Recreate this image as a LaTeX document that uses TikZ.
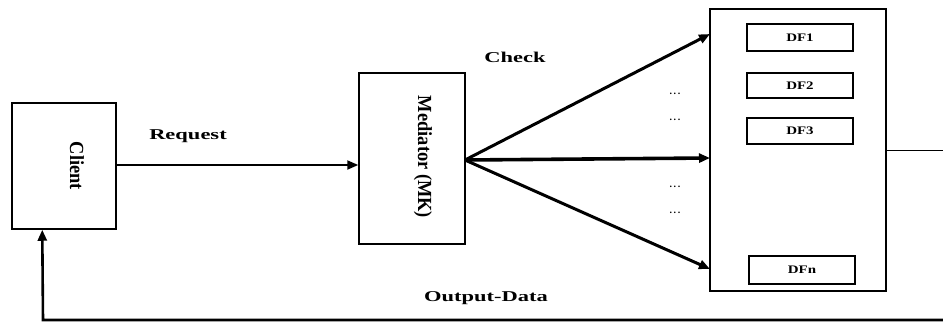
\documentclass[tikz,border=0pt]{standalone}
\usepackage{fontspec}
\setmainfont{Liberation Serif}
\newfontfamily\widefont[FakeStretch=1.5]{Liberation Serif}
\newfontfamily\dffont[FakeStretch=1.3]{Liberation Serif}
\newfontfamily\vfont[FakeStretch=0.92]{Liberation Serif}
\usetikzlibrary{arrows.meta}
\tikzset{
  box/.style={draw, line width=1.5pt, inner sep=0pt},
  dfbox/.style={draw, line width=1.5pt, inner sep=0pt, minimum width=106pt, font=\dffont\bfseries\fontsize{11.5}{13}\selectfont},
  lbl/.style={font=\widefont\bfseries\fontsize{15}{17}\selectfont, inner sep=0pt},
  vlbl/.style={font=\vfont\bfseries\fontsize{20}{22}\selectfont, inner sep=0pt, rotate=-90},
  dots/.style={font=\bfseries\fontsize{10}{11}\selectfont, inner sep=0pt},
  arr/.style={-{Triangle[length=11pt,width=9pt]}},
}
\begin{document}
\begin{tikzpicture}[x=1pt,y=-1pt]
\useasboundingbox (0,0) rectangle (943,322);
% boxes
\node[box, minimum width=104pt, minimum height=126pt] (client) at (64,166) {};
\node[vlbl] (clientlbl) at (77,166) {Client};
\node[box, minimum width=106pt, minimum height=171pt] (med) at (412,158.5) {};
\node[vlbl] (medlbl) at (423,157) {Mediator (MK)};
\node[box, minimum width=176pt, minimum height=282pt] (big) at (798,150) {};
\node[dfbox, minimum height=27pt] (df1) at (800,37.5) {DF1};
\node[dfbox, minimum height=25pt] (df2) at (800,85.5) {DF2};
\node[dfbox, minimum height=26pt] (df3) at (800,131) {DF3};
\node[dfbox, minimum height=28pt] (dfn) at (802,270) {DFn};
% labels
\node[lbl] (req) at (188,136) {Request};
\node[lbl] (chk) at (515,57) {Check};
\node[lbl] (out) at (486,298) {Output-Data};
\node[dots] (d1) at (675,94) {.\,.\,.};
\node[dots] (d2) at (675,120) {.\,.\,.};
\node[dots] (d3) at (675,187) {.\,.\,.};
\node[dots] (d4) at (675,213) {.\,.\,.};
% connectors
\coordinate (t1) at (710,34);
\coordinate (t2) at (710,158);
\coordinate (t3) at (710,269);
\coordinate (fan) at (465,160);
\draw[arr, line width=2pt] (client.east |- 0,165) -- (med.west |- 0,165);
\draw[arr, line width=3pt] (fan) -- (t1);
\draw[arr, line width=3.6pt] (fan) -- (t2);
\draw[arr, line width=3pt] (fan) -- (t3);
\coordinate (rend) at (943,150);
\draw[line width=1pt] (big.east |- rend) -- (rend);
\coordinate (oend) at (943,320);
\draw[arr, line width=2.6pt] (oend) -- (43,320) -- ([xshift=31pt]client.south west);
\end{tikzpicture}
\end{document}
